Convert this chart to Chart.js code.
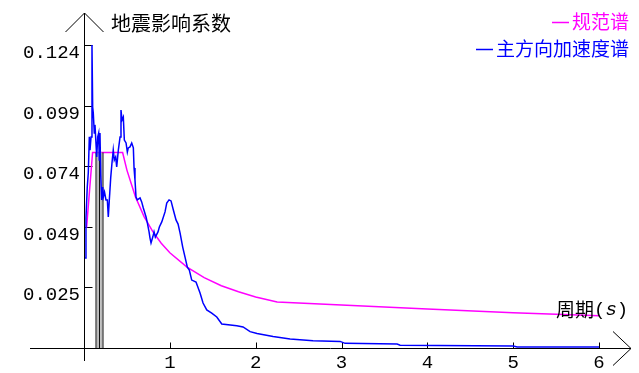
<!DOCTYPE html>
<html>
<head>
<meta charset="utf-8">
<script src="https://cdn.jsdelivr.net/npm/chart.js@4.4.1/dist/chart.umd.min.js"></script>
<style>
  html, body { margin: 0; padding: 0; background: #ffffff; }
  #wrap { width: 639px; height: 373px; }
</style>
</head>
<body>
<div id="wrap"><canvas id="c" width="639" height="373"></canvas></div>
<script>
// Axis ranges and tick labels
const periodMin = 0;
const periodMax = 6;
const coefMax = 0.124;
const yTickValues = [0.0248, 0.0496, 0.0744, 0.0992, 0.124];
const yTickLabels = ['0.025', '0.049', '0.074', '0.099', '0.124'];
const xTickValues = [1, 2, 3, 4, 5, 6];
const xTickLabels = ['1', '2', '3', '4', '5', '6'];

// Design (code) spectrum
const codePeriods = [0.03, 0.1, 0.45, 0.5, 0.6, 0.7, 0.8, 0.9, 1.0, 1.2, 1.4, 1.6, 1.8, 2.0, 2.25, 3, 4, 5, 6];
const codeValues  = [0.0492, 0.08, 0.08, 0.0728, 0.0618, 0.0538, 0.0477, 0.0429, 0.0390, 0.0331, 0.0288, 0.0255, 0.0230, 0.0209, 0.0188, 0.0176, 0.0160, 0.0144, 0.0132];

// Main-direction acceleration response spectrum
const recordPeriods = [
  0.012, 0.023, 0.038, 0.050, 0.062, 0.070, 0.082, 0.093, 0.101, 0.108,
  0.120, 0.128, 0.148, 0.160, 0.171, 0.178, 0.186, 0.195, 0.206, 0.218,
  0.225, 0.239, 0.256, 0.272, 0.283, 0.295, 0.311, 0.326, 0.341, 0.353,
  0.369, 0.381, 0.400, 0.420, 0.431, 0.443, 0.458, 0.470, 0.490, 0.505,
  0.516, 0.536, 0.556, 0.575, 0.583, 0.594, 0.606, 0.621, 0.653, 0.672,
  0.691, 0.723, 0.738, 0.758, 0.769, 0.781, 0.801, 0.816, 0.831, 0.862,
  0.878, 0.906, 0.944, 0.964, 0.991, 1.014, 1.041, 1.072, 1.096, 1.119,
  1.150, 1.177, 1.204, 1.227, 1.255, 1.305, 1.352, 1.387, 1.430, 1.488,
  1.547, 1.605, 1.780, 1.853, 1.935, 2.016, 2.203, 2.401, 2.669, 2.984,
  3.042, 3.648, 3.683, 5.000, 5.047, 6.000
];
const recordValues = [
  0.0368, 0.0532, 0.0659, 0.0716, 0.0864, 0.0810, 0.0864, 0.1240, 0.0986, 0.0962,
  0.0880, 0.0913, 0.0782, 0.0864, 0.0880, 0.0769, 0.0880, 0.0708, 0.0606, 0.0659,
  0.0618, 0.0638, 0.0606, 0.0606, 0.0536, 0.0606, 0.0696, 0.0757, 0.0810, 0.0769,
  0.0782, 0.0741, 0.0810, 0.0864, 0.0974, 0.0933, 0.0945, 0.0851, 0.0839, 0.0802,
  0.0819, 0.0823, 0.0839, 0.0819, 0.0737, 0.0688, 0.0618, 0.0606, 0.0614, 0.0598,
  0.0573, 0.0536, 0.0512, 0.0475, 0.0450, 0.0430, 0.0454, 0.0475, 0.0454, 0.0475,
  0.0495, 0.0516, 0.0557, 0.0593, 0.0606, 0.0602, 0.0565, 0.0524, 0.0507, 0.0471,
  0.0413, 0.0372, 0.0331, 0.0319, 0.0278, 0.0270, 0.0225, 0.0184, 0.0156, 0.0143,
  0.0127, 0.0098, 0.0091, 0.0086, 0.0067, 0.0059, 0.0047, 0.0037, 0.0030, 0.0027,
  0.0019, 0.0016, 0.0011, 0.0008, 0.0004, 0.0004
];

// Short-period vertical markers
const markerPeriods = [0.14, 0.18, 0.221];
const markerShadePeriods = [0.16, 0.20];
const markerTop = 0.08;

const toPoints = (xs, ys) => xs.map((x, i) => ({ x: x, y: ys[i] }));
const verticals = (xs, top) => {
  const pts = [];
  xs.forEach(x => { pts.push({ x: x, y: 0 }, { x: x, y: top }, { x: x, y: null }); });
  return pts;
};

const CJK = '"Noto Sans CJK SC", "Noto Sans", sans-serif';
const MONO = '"Liberation Mono", "DejaVu Sans Mono", monospace';

// Axes with open arrowheads, inward tick marks, titles and legend
const decorPlugin = {
  id: 'decor',
  beforeDatasetsDraw(chart) {
    const ctx = chart.ctx;
    const xs = chart.scales.x, ys = chart.scales.y;
    const x0 = Math.round(xs.getPixelForValue(0)) + 0.5;
    const y0 = Math.round(ys.getPixelForValue(0)) + 0.5;
    ctx.save();
    ctx.strokeStyle = '#000000';
    ctx.lineWidth = 1;
    ctx.beginPath();
    // vertical axis + arrow
    ctx.moveTo(x0, 361); ctx.lineTo(x0, 13);
    ctx.moveTo(x0 - 19, 32); ctx.lineTo(x0, 13); ctx.lineTo(x0 + 19, 32);
    // horizontal axis + arrow
    ctx.moveTo(30, y0); ctx.lineTo(631, y0);
    ctx.moveTo(613, y0 - 17); ctx.lineTo(631, y0); ctx.lineTo(613, y0 + 17);
    // y ticks (inward)
    yTickValues.forEach(v => {
      const py = Math.round(ys.getPixelForValue(v)) + 0.5;
      ctx.moveTo(x0, py); ctx.lineTo(x0 + 8, py);
    });
    // x ticks (upward)
    xTickValues.forEach(v => {
      const px = Math.round(xs.getPixelForValue(v)) + 0.5;
      ctx.moveTo(px, y0); ctx.lineTo(px, y0 - 6);
    });
    ctx.stroke();
    ctx.restore();
  },
  afterDraw(chart) {
    const ctx = chart.ctx;
    ctx.save();
    ctx.textBaseline = 'middle';
    ctx.fillStyle = '#000000';
    // axis titles
    ctx.textAlign = 'left';
    ctx.font = '20px ' + CJK;
    ctx.fillText('地震影响系数', 111, 23);
    ctx.font = '19px ' + CJK;
    ctx.fillText('周期', 556, 310);
    let px = 556 + ctx.measureText('周期').width;
    ctx.font = '19px ' + MONO;
    ctx.fillText('(', px, 310);
    px += ctx.measureText('(').width;
    ctx.font = 'italic 19px ' + MONO;
    ctx.fillText('s', px, 310);
    px += ctx.measureText('s').width;
    ctx.font = '19px ' + MONO;
    ctx.fillText(')', px, 310);
    // legend
    ctx.font = '19px ' + CJK;
    ctx.textAlign = 'right';
    chart.data.datasets.forEach(ds => {
      if (ds.legendRow === undefined) return;
      const y = ds.legendRow;
      const right = 629;
      const w = ctx.measureText(ds.label).width;
      ctx.fillStyle = ds.borderColor;
      ctx.fillText(ds.label, right, y);
      ctx.strokeStyle = ds.borderColor;
      ctx.lineWidth = 1.5;
      ctx.beginPath();
      ctx.moveTo(right - w - 20, y + 0.5);
      ctx.lineTo(right - w - 3, y + 0.5);
      ctx.stroke();
    });
    ctx.restore();
  }
};

new Chart(document.getElementById('c'), {
  type: 'scatter',
  data: {
    datasets: [
      {
        label: '规范谱',
        data: toPoints(codePeriods, codeValues),
        showLine: true,
        borderColor: '#ff00ff',
        borderWidth: 1.5,
        pointRadius: 0,
        legendRow: 22,
        order: 3
      },
      {
        label: 'markerShade',
        data: verticals(markerShadePeriods, markerTop),
        showLine: true,
        spanGaps: false,
        borderColor: '#b8b8b8',
        borderWidth: 2,
        pointRadius: 0,
        order: 2
      },
      {
        label: 'markers',
        data: verticals(markerPeriods, markerTop),
        showLine: true,
        spanGaps: false,
        borderColor: '#000000',
        borderWidth: 1,
        pointRadius: 0,
        order: 1
      },
      {
        label: '主方向加速度谱',
        data: toPoints(recordPeriods, recordValues),
        showLine: true,
        borderColor: '#0000ff',
        borderWidth: 1.5,
        pointRadius: 0,
        legendRow: 49,
        order: 0
      }
    ]
  },
  options: {
    responsive: false,
    animation: false,
    devicePixelRatio: 1,
    clip: 6,
    layout: { padding: { top: 45, right: 40, left: 0, bottom: 0 } },
    plugins: { legend: { display: false }, tooltip: { enabled: false } },
    elements: { line: { tension: 0 } },
    scales: {
      x: {
        type: 'linear',
        min: periodMin,
        max: periodMax,
        afterBuildTicks: s => { s.ticks = xTickValues.map(v => ({ value: v })); },
        afterFit: s => { s.height = 25; },
        grid: { display: false, drawTicks: false },
        border: { display: false },
        ticks: {
          autoSkip: false,
          maxRotation: 0,
          padding: 4,
          color: '#000000',
          font: { family: MONO, size: 19 },
          callback: (v, i) => xTickLabels[i]
        }
      },
      y: {
        type: 'linear',
        min: 0,
        max: coefMax,
        afterBuildTicks: s => { s.ticks = yTickValues.map(v => ({ value: v })); },
        afterFit: s => { s.width = 84; },
        grid: { display: false, drawTicks: false },
        border: { display: false },
        ticks: {
          autoSkip: false,
          padding: 4,
          labelOffset: 8,
          color: '#000000',
          font: { family: MONO, size: 19 },
          callback: (v, i) => yTickLabels[i]
        }
      }
    }
  },
  plugins: [decorPlugin]
});
</script>
</body>
</html>
